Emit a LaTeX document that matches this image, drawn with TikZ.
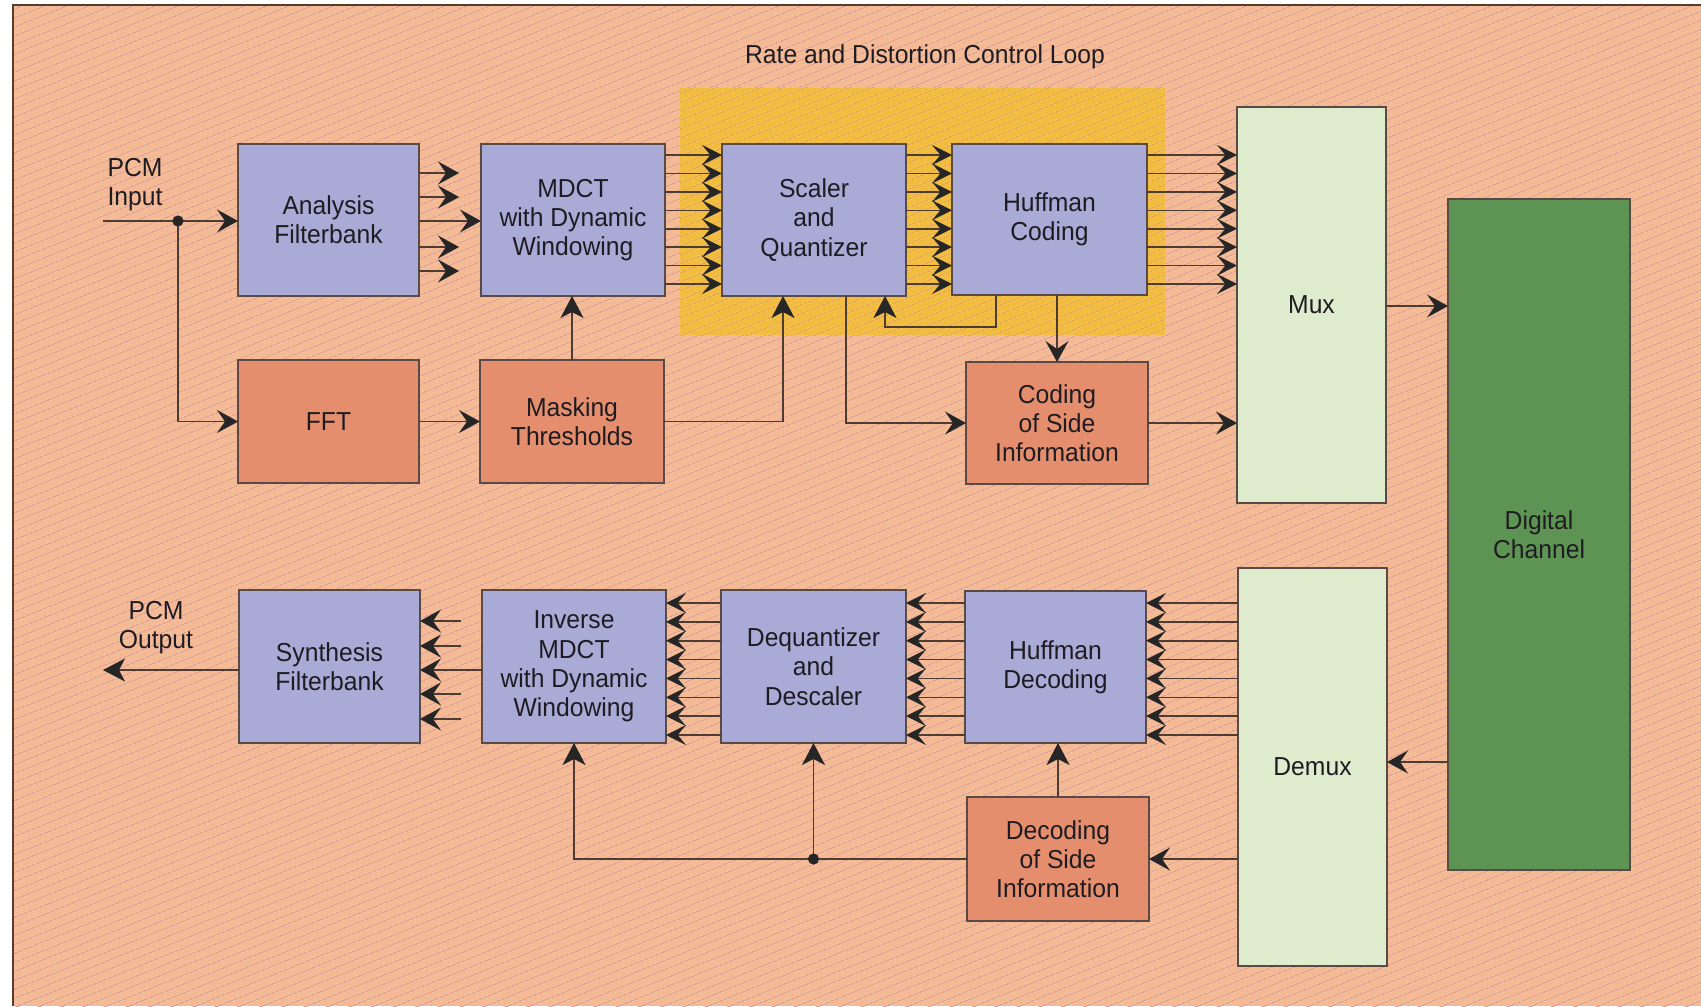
\documentclass[tikz,border=0pt]{standalone}
\usepackage{fontspec}
\setmainfont{Liberation Sans}[FakeStretch=0.95]
\usetikzlibrary{arrows.meta,calc,patterns.meta}
\definecolor{bgc}{HTML}{F3BA93}
\definecolor{stripec}{HTML}{E6A08E}
\definecolor{bluec}{HTML}{A9AAD6}
\definecolor{redc}{HTML}{E58E6E}
\definecolor{yelc}{HTML}{F2BC3E}
\definecolor{yelstripe}{HTML}{E8A83E}
\definecolor{muxc}{HTML}{DEEBCD}
\definecolor{dcc}{HTML}{5E9453}
\definecolor{linec}{HTML}{4E3B31}
\definecolor{edgec}{HTML}{5A4A45}
\definecolor{txtc}{HTML}{1E1C22}
\definecolor{framec}{HTML}{5A3A2A}
\tikzset{
  txtfont/.style={font=\fontsize{13pt}{14.6pt}\selectfont},
  blk/.style={draw=edgec, line width=0.8pt, inner sep=0pt, outer sep=0pt, align=center, text=txtc, txtfont},
  bluebox/.style={blk, fill=bluec},
  redbox/.style={blk, fill=redc},
  muxbox/.style={blk, fill=muxc},
  dcbox/.style={blk, fill=dcc},
  lbl/.style={align=center, text=txtc, txtfont, inner sep=0pt},
  conn/.style={draw=linec, line width=0.8pt},
  arr/.style={conn, -{Stealth[length=10.5pt,width=11.5pt,inset=4pt,color=black!85]}},
  arrz/.style={conn, -{Stealth[length=10pt,width=10pt,inset=4.2pt,color=black!85]}},
  openarr/.style={conn, -{Stealth[length=11pt,width=11.5pt,inset=3pt,color=black!85]}},
}
\newcommand\myblock[7]{\node[#1, minimum width={((#5)-(#3))*0.5pt}, minimum height={((#6)-(#4))*0.5pt}] (#2) at ({((#3)+(#5))/2},{((#4)+(#6))/2}) {#7};}
\begin{document}
\begin{tikzpicture}[x=0.5pt,y=-0.5pt]
\useasboundingbox (0,0) rectangle (1701,1006);
% background
\fill[white] (0,0) rectangle (1701,1006);
\fill[bgc] (13,5) rectangle (1701,1006);
\fill[pattern={Lines[angle=22,distance=4pt,line width=0.9pt]}, pattern color=stripec] (13,5) rectangle (1701,1006);
\draw[framec, line width=1.2pt] (13,1006) -- (13,5) -- (1701,5);
% control loop region
\fill[yelc] (680,88) rectangle (1165,335);
\fill[pattern={Lines[angle=22,distance=4pt,line width=0.9pt]}, pattern color=yelstripe] (680,88) rectangle (1165,335);
\node[lbl] (title) at (925,57) {Rate and Distortion Control Loop};
% blocks
\myblock{bluebox}{af}{238}{144}{419}{296}{Analysis\\Filterbank}
\myblock{bluebox}{mdct}{481}{144}{665}{296}{MDCT\\with Dynamic\\Windowing}
\myblock{bluebox}{sq}{722}{144}{906}{296}{Scaler\\and\\Quantizer}
\myblock{bluebox}{hc}{952}{144}{1147}{295}{Huffman\\Coding}
\myblock{redbox}{fft}{238}{360}{419}{483}{FFT}
\myblock{redbox}{mask}{480}{360}{664}{483}{Masking\\Thresholds}
\myblock{redbox}{csi}{966}{362}{1148}{484}{Coding\\of Side\\Information}
\myblock{muxbox}{mux}{1237}{107}{1386}{503}{Mux}
\myblock{dcbox}{dc}{1448}{199}{1630}{870}{Digital\\Channel}
\myblock{bluebox}{synth}{239}{590}{420}{743}{Synthesis\\Filterbank}
\myblock{bluebox}{imdct}{482}{590}{666}{743}{Inverse\\MDCT\\with Dynamic\\Windowing}
\myblock{bluebox}{dq}{721}{590}{906}{743}{Dequantizer\\and\\Descaler}
\myblock{bluebox}{hd}{965}{591}{1146}{743}{Huffman\\Decoding}
\myblock{muxbox}{demux}{1238}{568}{1387}{966}{Demux}
\myblock{redbox}{dsi}{967}{797}{1149}{921}{Decoding\\of Side\\Information}
% labels
\node[lbl] (pcmin) at (135,185) {PCM\\Input};
\node[lbl] (pcmout) at (156,628) {PCM\\Output};
% input
\coordinate (inL) at (103,221);
\coordinate (jin) at (178,221);
\draw[arr] (inL) -- (af.west |- inL);
\draw[arr] (jin) |- (fft.west);
\fill[black!85] (jin) circle (2.8pt);
% analysis -> mdct
\foreach \y in {173,197,247,271} \draw[arr] (af.east |- 0,\y) -- ++(40,0);
\draw[arr] (af.east |- 0,221) -- (mdct.west |- 0,221);
% multi-line connections, encoder
\foreach \y in {155,173.4,191.9,210.3,228.7,247.1,265.6,284} {
  \draw[arrz] (mdct.east |- 0,\y) -- (sq.west |- 0,\y);
  \draw[arrz] (sq.east |- 0,\y) -- (hc.west |- 0,\y);
  \draw[arrz] (hc.east |- 0,\y) -- (mux.west |- 0,\y);
}
% fft / masking
\draw[arr] (fft.east) -- (mask.west);
\draw[openarr] (mask.north) -- (mask.north |- mdct.south);
\draw[openarr] (mask.east) -| ($(sq.south west)+(61,0)$);
\draw[arr] ($(sq.south west)+(124,0)$) |- (csi.west);
\draw[openarr] ($(hc.south west)+(44,0)$) -- ++(0,32) -| ($(sq.south east)+(-21,0)$);
\draw[arr] (csi.north |- hc.south) -- (csi.north);
\draw[arr] (csi.east) -- (mux.west |- csi.east);
\draw[arr] (mux.east |- 0,306) -- (dc.west |- 0,306);
% decoder
\draw[arr] (dc.west |- 0,762) -- (demux.east |- 0,762);
\foreach \y in {603,621.9,640.7,659.6,678.4,697.3,716.1,735} {
  \draw[arrz] (demux.west |- 0,\y) -- (hd.east |- 0,\y);
  \draw[arrz] (hd.west |- 0,\y) -- (dq.east |- 0,\y);
  \draw[arrz] (dq.west |- 0,\y) -- (imdct.east |- 0,\y);
}
\foreach \y in {621,646,694,719} \draw[arr] ($(synth.east |- 0,\y)+(41,0)$) -- (synth.east |- 0,\y);
\draw[arr] (imdct.west |- 0,670) -- (synth.east |- 0,670);
\coordinate (outL) at (103,670);
\draw[openarr] (synth.west |- outL) -- (outL);
\draw[arr] (demux.west |- dsi.east) -- (dsi.east);
\draw[openarr] (dsi.north) -- (dsi.north |- hd.south);
\coordinate (jd) at (dq.south |- dsi.west);
\draw[conn] (dsi.west) -- (jd);
\draw[openarr] (jd) -- (dq.south);
\draw[openarr] (jd) -- (imdct.south |- jd) -- (imdct.south);
\fill[black!85] (jd) circle (2.8pt);
\end{tikzpicture}
\end{document}
